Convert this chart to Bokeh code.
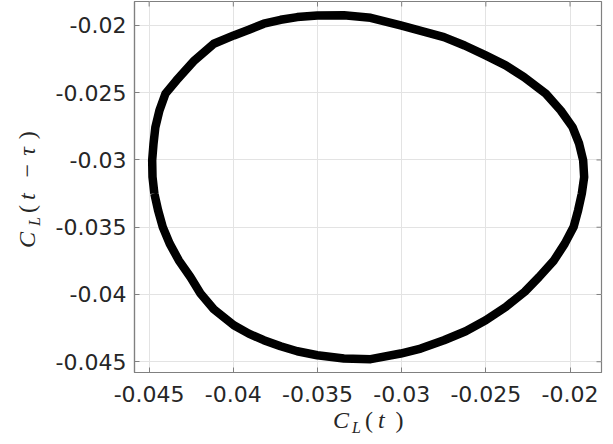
from bokeh.plotting import figure
from bokeh.models import Range1d, FixedTicker, Div
from bokeh.layouts import column, row
from bokeh.embed import file_html
from bokeh.resources import INLINE

# Phase portrait points (C_L(t), C_L(t - tau)), clockwise
cl_t = [-0.04469, -0.04480, -0.04482, -0.04474, -0.04463, -0.04439, -0.04403,
        -0.04338, -0.04231, -0.04116, -0.03997, -0.03908, -0.03819, -0.03719,
        -0.03620, -0.03501, -0.03343, -0.03184, -0.03006, -0.02749, -0.02626,
        -0.02501, -0.02382, -0.02273, -0.02144, -0.02055, -0.01985, -0.01946,
        -0.01922, -0.01916, -0.01930, -0.01952, -0.01979, -0.02031, -0.02095,
        -0.02184, -0.02269, -0.02382, -0.02501, -0.02620, -0.02749, -0.02887,
        -0.03006, -0.03184, -0.03343, -0.03501, -0.03620, -0.03719, -0.03819,
        -0.03908, -0.03997, -0.04116, -0.04195, -0.04255, -0.04324, -0.04378,
        -0.04419, -0.04447]
cl_t_tau = [-0.03250, -0.03127, -0.03003, -0.02879, -0.02756, -0.02632, -0.02507,
            -0.02409, -0.02260, -0.02136, -0.02074, -0.02032, -0.01987, -0.01958,
            -0.01938, -0.01926, -0.01924, -0.01943, -0.02000, -0.02087, -0.02149,
            -0.02223, -0.02297, -0.02384, -0.02507, -0.02632, -0.02756, -0.02879,
            -0.03003, -0.03127, -0.03250, -0.03374, -0.03499, -0.03622, -0.03746,
            -0.03870, -0.03980, -0.04093, -0.04192, -0.04273, -0.04340, -0.04402,
            -0.04439, -0.04481, -0.04476, -0.04452, -0.04422, -0.04385, -0.04340,
            -0.04291, -0.04229, -0.04110, -0.03993, -0.03870, -0.03746, -0.03622,
            -0.03499, -0.03374]

x_ticks = [-0.045, -0.04, -0.035, -0.03, -0.025, -0.02]
x_tick_labels = ["-0.045", "-0.04", "-0.035", "-0.03", "-0.025", "-0.02"]
y_ticks = [-0.045, -0.04, -0.035, -0.03, -0.025, -0.02]
y_tick_labels = ["-0.045", "-0.04", "-0.035", "-0.03", "-0.025", "-0.02"]
x_lim = (-0.04587, -0.01813)
y_lim = (-0.04580, -0.01822)

AX = "#808080"
TXT = "#262626"

YL_W = 40
MAIN_W, MAIN_H = 557, 420
BL, BR, BT, BB = 86, 4, 9, 40
XL_H = 24

p = figure(width=MAIN_W, height=MAIN_H, output_backend="svg", toolbar_location=None,
           x_range=Range1d(*x_lim), y_range=Range1d(*y_lim),
           min_border_left=BL, min_border_right=BR, min_border_top=BT, min_border_bottom=BB)
p.background_fill_color = "white"
p.border_fill_color = "white"
p.outline_line_color = AX
p.outline_line_width = 1.2

xt = FixedTicker(ticks=x_ticks, minor_ticks=[])
yt = FixedTicker(ticks=y_ticks, minor_ticks=[])

for ax, tk, labs in ((p.xaxis[0], xt, x_tick_labels), (p.yaxis[0], yt, y_tick_labels)):
    ax.ticker = tk
    ax.major_label_overrides = {t: s for t, s in zip(tk.ticks, labs)}
    ax.major_label_text_font = "DejaVu Sans"
    ax.major_label_text_font_size = "22px"
    ax.major_label_text_color = TXT
    ax.axis_line_color = AX
    ax.axis_line_width = 1.2
    ax.major_tick_line_color = AX
    ax.major_tick_in = 5
    ax.major_tick_out = 0
    ax.minor_tick_line_color = None
p.xaxis[0].major_label_standoff = 13
p.yaxis[0].major_label_standoff = 8

p.xgrid.ticker = xt
p.ygrid.ticker = yt
p.xgrid.grid_line_color = "#e3e3e3"
p.ygrid.grid_line_color = "#e3e3e3"

# inward tick marks on the top and right edges (5 px long)
fw = MAIN_W - BL - BR
fh = MAIN_H - BT - BB
dy5 = 5 * (y_lim[1] - y_lim[0]) / fh
dx5 = 5 * (x_lim[1] - x_lim[0]) / fw
p.segment(x0=x_ticks, y0=[y_lim[1]] * len(x_ticks), x1=x_ticks,
          y1=[y_lim[1] - dy5] * len(x_ticks), line_color=AX, line_width=1)
p.segment(x0=[x_lim[1]] * len(y_ticks), y0=y_ticks, x1=[x_lim[1] - dx5] * len(y_ticks),
          y1=y_ticks, line_color=AX, line_width=1)

p.line(cl_t + cl_t[:1], cl_t_tau + cl_t_tau[:1], line_color="black", line_width=8.5,
       line_join="round")

FONT = ("font-family:'Liberation Serif'; font-size:24px; line-height:24px; "
        f"color:{TXT}; white-space:nowrap;")
SUB = "font-style:italic; font-size:16px; position:relative; top:5px;"

x_label_html = (
    '<div style="position:relative; width:%dpx; height:%dpx;">'
    '<span style="position:absolute; left:325px; top:-4px; %s">'
    '<i>C</i><span style="%s margin-left:3px;">L</span>'
    '<span style="margin-left:4px;">(</span><i style="margin-left:5px;">t</i>'
    '<span style="margin-left:11px;">)</span></span></div>'
) % (YL_W + MAIN_W, XL_H, FONT, SUB)

y_label_html = (
    '<div style="position:relative; width:%dpx; height:%dpx;">'
    '<span style="position:absolute; left:7px; top:256px; transform-origin:0 0; '
    'transform:rotate(-90deg); %s">'
    '<i>C</i><span style="%s margin-left:6px;">L</span>'
    '<span style="margin-left:4px;">(</span><i style="margin-left:5px;">t</i>'
    '<span style="margin-left:16px;">\u2212</span><i style="margin-left:8px;">\u03c4</i>'
    '<span style="margin-left:8px;">)</span></span></div>'
) % (YL_W, MAIN_H, FONT, SUB)

ydiv = Div(text=y_label_html, width=YL_W, height=MAIN_H, margin=0)
xdiv = Div(text=x_label_html, width=YL_W + MAIN_W, height=XL_H, margin=0)

layout = column(row(ydiv, p, spacing=0), xdiv, spacing=0, margin=(-8, 0, 0, 8))

open("out.html", "w").write(file_html(layout, INLINE))
